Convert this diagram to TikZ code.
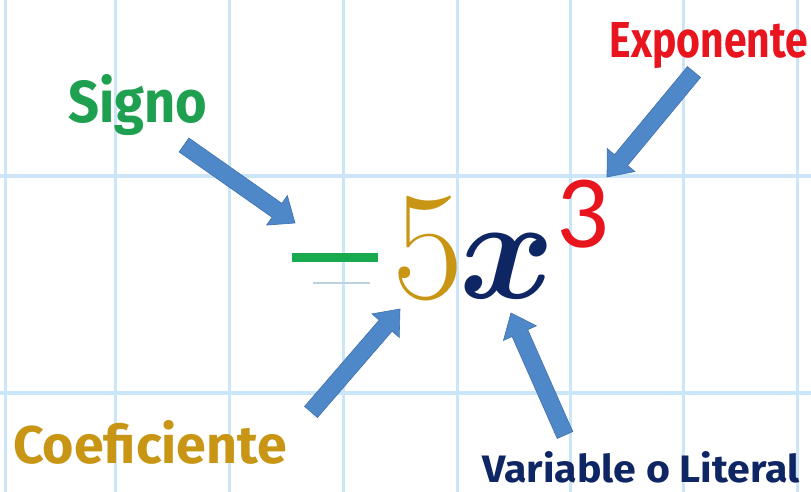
\documentclass[tikz,border=0pt]{standalone}
\usepackage{fontspec}
\usepackage{graphicx}
\usetikzlibrary{calc}
\newfontfamily\lab{Fira Sans}
\newfontfamily\expfont{Carlito}
\definecolor{gridblue}{RGB}{203,230,249}
\definecolor{sgreen}{RGB}{30,160,80}
\definecolor{mgreen}{RGB}{25,170,80}
\definecolor{ered}{RGB}{232,20,30}
\definecolor{cgold}{RGB}{200,150,20}
\definecolor{vnavy}{RGB}{15,38,100}
\definecolor{arrfill}{RGB}{79,136,200}
\definecolor{arrdraw}{RGB}{62,112,172}
\newcommand\blockarrow[2]{%
  \coordinate (baC) at ($(#2)!22pt!(#1)$);
  \path[blockarr] ($(#1)!8.5pt!90:(#2)$) -- ($(baC)!8.5pt!-90:(#1)$) -- ($(baC)!18pt!-90:(#1)$) -- (#2) -- ($(baC)!18pt!90:(#1)$) -- ($(baC)!8.5pt!90:(#1)$) -- ($(#1)!8.5pt!-90:(#2)$) -- cycle;}
\tikzset{
  gridv/.style={draw=gridblue, line width=3pt},
  gridh/.style={draw=gridblue, line width=4.5pt},
  blockarr/.style={fill=arrfill, draw=arrdraw, line width=0.6pt, line join=miter},
  label/.style={anchor=base, inner sep=0pt, font=\lab\bfseries},
  big/.style={anchor=base, inner sep=0pt, font=\fontsize{155}{155}\selectfont},
}
\begin{document}
\begin{tikzpicture}[x=1pt,y=-1pt]
\fill[white] (0,0) rectangle (811,492);
\useasboundingbox (0,0) rectangle (811,492);
% grid
\foreach \gx in {5,115,229,343,457,570,683,797} {\draw[gridv] (\gx,0) -- (\gx,492);}
\foreach \gy in {176,393} {\draw[gridh] (0,\gy) -- (811,\gy);}
% expression
\node[fill=mgreen, minimum width=86pt, minimum height=9pt, inner sep=0pt] (minus) at (335,257.5) {};
\draw[gridblue!80!gray, line width=1.2pt] (313,283) -- (370,283);
\node[big, text=cgold] (five) at (428,298) {5};
\node[anchor=base, inner sep=0pt, text=vnavy] (var) at (507,298) {\scalebox{14.5}{\boldmath$x$}};
\node[anchor=base, inner sep=0pt, text=ered, font=\expfont\fontsize{104}{104}\selectfont] (three) at (583,247) {3};
% labels
\node[label, text=sgreen] (signo) at (138,123) {\resizebox{139pt}{48pt}{Signo}};
\node[label, text=ered] (expo) at (709,58) {\resizebox{198pt}{35pt}{Exponente}};
\node[label, text=cgold] (coef) at (150,463) {\resizebox{274pt}{43pt}{Coeficiente}};
\node[label, text=vnavy] (varlab) at (641,482) {\resizebox{317pt}{31pt}{Variable o Literal}};
% arrow ends
\coordinate (sgA) at (184,145); \coordinate (sgB) at (295,223);
\coordinate (exA) at (694,72);  \coordinate (exB) at (607,177);
\coordinate (coA) at (311,412); \coordinate (coB) at (400,309);
\coordinate (vaA) at (565,435); \coordinate (vaB) at (511,313);
\blockarrow{sgA}{sgB}
\blockarrow{exA}{exB}
\blockarrow{coA}{coB}
\blockarrow{vaA}{vaB}
\end{tikzpicture}
\end{document}
